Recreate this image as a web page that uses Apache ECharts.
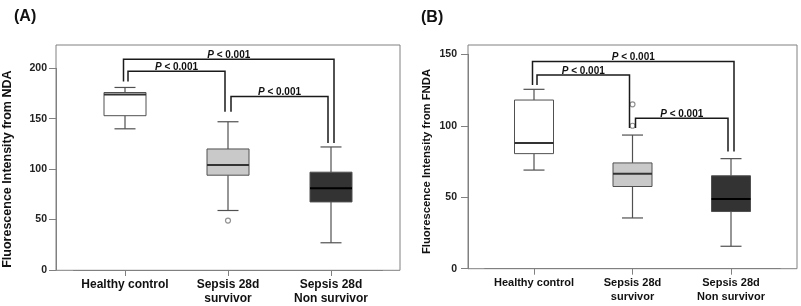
<!DOCTYPE html>
<html><head><meta charset="utf-8">
<script src="https://cdn.jsdelivr.net/npm/echarts@6/dist/echarts.min.js"></script>
<style>html,body{margin:0;padding:0;background:#fff}#c{width:801px;height:306px}</style>
</head><body><div id="c"></div>
<script>
// ---------------- data ----------------
const categories = ['Healthy control', 'Sepsis 28d\nsurvivor', 'Sepsis 28d\nNon survivor'];
// [min, Q1, median, Q3, max] per category
const boxA = [[140, 153, 174, 176, 181], [59, 94, 104, 120, 147], [27, 67.5, 81, 97, 122]];
const outliersA = [[1, 49]];
const boxB = [[69, 80.5, 88, 118, 125.5], [35.5, 57.5, 66.5, 74, 93.5], [15.7, 40, 48.7, 65, 77]];
const outliersB = [[1, 115], [1, 100]];
// [fromCategory, toCategory, topValue, leftLegEndValue, rightLegEndValue]
const bracketsA = [[0, 2, 209, 187, 126], [0, 1, 197, 187, 157], [1, 2, 172, 157, 126]];
const bracketsB = [[0, 2, 145, 128.5, 82], [0, 1, 135.5, 128.5, 98.5], [1, 2, 105.2, 98.5, 82]];
const pLabel = 'P < 0.001';
const yNameA = 'Fluorescence Intensity from NDA';
const yNameB = 'Fluorescence Intensity from FNDA';
const yMaxA = 200, yMaxB = 150, yStep = 50;
const panelTitles = ['(A)', '(B)'];

// ---------------- style ----------------
const FONT = 'Arial, "Liberation Sans", sans-serif';
const FILLS = ['#ffffff', '#c9c9c9', '#333333'];
const MEDIANS = ['#333333', '#333333', '#000000'];
const AXIS_COLOR = '#808080';

function boxRenderer(boxW, capW) {
  return function (params, api) {
    const i = api.value(0);
    const p = [1, 2, 3, 4, 5].map(k => api.coord([i, api.value(k)]));
    const cx = p[0][0];
    const yMin = p[0][1], yQ1 = p[1][1], yMed = p[2][1], yQ3 = p[3][1], yMax = p[4][1];
    const ls = { stroke: '#505050', lineWidth: 1.2 };
    return {
      type: 'group', children: [
        { type: 'line', shape: { x1: cx, y1: yQ3, x2: cx, y2: yMax }, style: ls },
        { type: 'line', shape: { x1: cx, y1: yQ1, x2: cx, y2: yMin }, style: ls },
        { type: 'line', shape: { x1: cx - capW / 2, y1: yMax, x2: cx + capW / 2, y2: yMax }, style: ls },
        { type: 'line', shape: { x1: cx - capW / 2, y1: yMin, x2: cx + capW / 2, y2: yMin }, style: ls },
        { type: 'rect', shape: { x: cx - boxW / 2, y: yQ3, width: boxW, height: yQ1 - yQ3 },
          style: { fill: FILLS[i], stroke: '#505050', lineWidth: 1 } },
        { type: 'line', shape: { x1: cx - boxW / 2, y1: yMed, x2: cx + boxW / 2, y2: yMed },
          style: { stroke: MEDIANS[i], lineWidth: 2 } }
      ]
    };
  };
}

function bracketRenderer(fontSize) {
  return function (params, api) {
    const a = api.value(0), b = api.value(1);
    const outer = (b - a) > 1;
    const dl = outer ? -1.5 : 3, dr = outer ? 3 : -3;
    const xl = api.coord([a, 0])[0] + dl;
    const xr = api.coord([b, 0])[0] + dr;
    const yT = api.coord([a, api.value(2)])[1];
    const yL = api.coord([a, api.value(3)])[1];
    const yR = api.coord([b, api.value(4)])[1];
    return {
      type: 'group', children: [
        { type: 'polyline', shape: { points: [[xl, yL], [xl, yT], [xr, yT], [xr, yR]] },
          style: { stroke: '#1a1a1a', lineWidth: 1.5, fill: null } },
        { type: 'text', x: (xl + xr) / 2, y: yT + 1,
          style: {
            text: '{i|' + pLabel.slice(0, 1) + '}{n|' + pLabel.slice(1) + '}',
            rich: {
              i: { fontStyle: 'italic', fontWeight: 'bold', fontSize: fontSize, fontFamily: FONT, fill: '#111' },
              n: { fontWeight: 'bold', fontSize: fontSize, fontFamily: FONT, fill: '#111' }
            },
            align: 'center', verticalAlign: 'bottom',
            textAlign: 'center', textVerticalAlign: 'bottom', fill: '#111'
          } }
      ]
    };
  };
}

function yAxisCfg(gridIndex, max, name, offset, nameGap, nameSize, labelMargin) {
  return {
    type: 'value', gridIndex, min: 0, max, interval: yStep, offset,
    name, nameLocation: 'middle', nameGap,
    nameTextStyle: { fontFamily: FONT, fontWeight: 'bold', fontSize: nameSize, color: '#111' },
    axisLine: { show: true, lineStyle: { color: AXIS_COLOR, width: 1 } },
    axisTick: { show: true, length: 7, lineStyle: { color: AXIS_COLOR } },
    axisLabel: { fontFamily: FONT, fontWeight: 'bold', fontSize: 10.5, color: '#222', margin: labelMargin },
    splitLine: { show: false }
  };
}
function xAxisCfg(gridIndex, fontSize) {
  return {
    type: 'category', gridIndex, data: categories, boundaryGap: true,
    axisLine: { show: true, lineStyle: { color: AXIS_COLOR, width: 1 } },
    axisTick: { show: true, alignWithLabel: true, length: 6, interval: 0, lineStyle: { color: AXIS_COLOR } },
    axisLabel: { interval: 0, fontFamily: FONT, fontWeight: 'bold', fontSize, color: '#111',
      lineHeight: 14.5, margin: 7 },
    splitLine: { show: false }
  };
}
const frameGrid = (l, t, r, b) => ({ left: l, top: t, right: r, bottom: b, show: true,
  borderColor: AXIS_COLOR, borderWidth: 1, backgroundColor: 'transparent' });

const chart = echarts.init(document.getElementById('c'), null, { renderer: 'canvas' });
chart.setOption({
  animation: false,
  backgroundColor: '#fff',
  title: [
    { text: panelTitles[0], left: 9, top: 4, textStyle: { fontFamily: FONT, fontWeight: 'bold', fontSize: 16, color: '#111' } },
    { text: panelTitles[1], left: 416, top: 5, textStyle: { fontFamily: FONT, fontWeight: 'bold', fontSize: 16, color: '#111' } }
  ],
  grid: [
    { left: 73.5, right: 418.5, top: 68.3, bottom: 35.7 },
    { left: 484.75, right: 20.75, top: 54.3, bottom: 37.3 },
    frameGrid(56, 45, 401, 35.7),
    frameGrid(468, 45, 4, 37.3)
  ],
  xAxis: [
    xAxisCfg(0, 12),
    xAxisCfg(1, 11),
    { type: 'category', gridIndex: 2, show: false, data: categories },
    { type: 'category', gridIndex: 3, show: false, data: categories }
  ],
  yAxis: [
    yAxisCfg(0, yMaxA, yNameA, 17.5, 42, 12.5, 9),
    yAxisCfg(1, yMaxB, yNameB, 16.75, 36, 11.3, 11),
    { type: 'value', gridIndex: 2, show: false },
    { type: 'value', gridIndex: 3, show: false }
  ],
  series: [
    { type: 'custom', xAxisIndex: 0, yAxisIndex: 0, renderItem: boxRenderer(42, 21),
      encode: { x: 0, y: [1, 2, 3, 4, 5] }, data: boxA.map((d, i) => [i].concat(d)), z: 2 },
    { type: 'custom', xAxisIndex: 1, yAxisIndex: 1, renderItem: boxRenderer(39, 21),
      encode: { x: 0, y: [1, 2, 3, 4, 5] }, data: boxB.map((d, i) => [i].concat(d)), z: 2 },
    { type: 'scatter', xAxisIndex: 0, yAxisIndex: 0, data: outliersA, symbol: 'circle', symbolSize: 5,
      itemStyle: { color: '#fff', borderColor: '#777', borderWidth: 1.2 }, z: 3 },
    { type: 'scatter', xAxisIndex: 1, yAxisIndex: 1, data: outliersB, symbol: 'circle', symbolSize: 5,
      itemStyle: { color: '#fff', borderColor: '#777', borderWidth: 1.2 }, z: 3 },
    { type: 'custom', xAxisIndex: 0, yAxisIndex: 0, renderItem: bracketRenderer(10), clip: false,
      encode: { x: [0, 1], y: [2, 3, 4] }, data: bracketsA, z: 4 },
    { type: 'custom', xAxisIndex: 1, yAxisIndex: 1, renderItem: bracketRenderer(10), clip: false,
      encode: { x: [0, 1], y: [2, 3, 4] }, data: bracketsB, z: 4 }
  ]
});
</script>
</body></html>
